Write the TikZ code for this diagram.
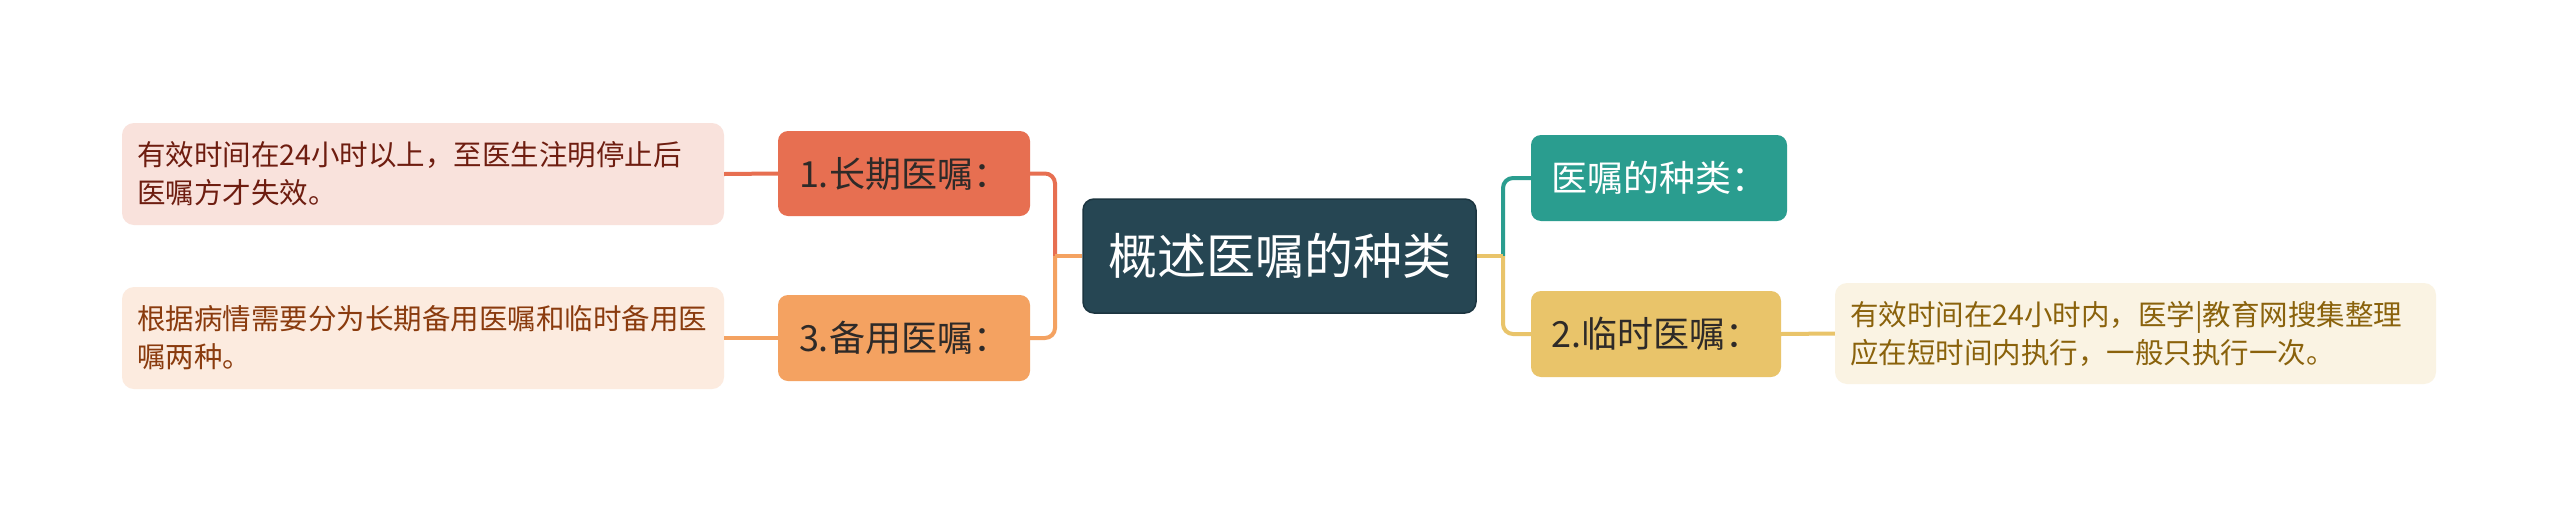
\documentclass[tikz,border=0pt]{standalone}
\usepackage{fontspec}
\newfontfamily\cjk{Noto Sans CJK SC}
\definecolor{cRed}{HTML}{E76F51}
\definecolor{cOrange}{HTML}{F4A261}
\definecolor{cTeal}{HTML}{2A9D8F}
\definecolor{cYellow}{HTML}{E9C46A}
\definecolor{cDark}{HTML}{264653}
\definecolor{cDarkLine}{HTML}{1C3540}
\definecolor{bgRed}{HTML}{F9E2DC}
\definecolor{bgOrange}{HTML}{FCEBDF}
\definecolor{bgYellow}{HTML}{FAF3E3}
\definecolor{txRed}{HTML}{6E1D10}
\definecolor{txOrange}{HTML}{8A3B0E}
\definecolor{txYellow}{HTML}{8A620C}
\definecolor{txDark}{HTML}{2E2A28}
\tikzset{
  conn/.style={line width=4pt},
  branchbox/.style={rounded corners=10pt, inner sep=0pt, font=\cjk\fontsize{36}{40}\selectfont},
  rootbox/.style={rounded corners=11pt, inner sep=0pt, fill=cDark, draw=cDarkLine, line width=1.5pt,
     text=white, minimum width=393pt, minimum height=114pt, font=\cjk\fontsize{49}{54}\selectfont},
  notebox/.style={rounded corners=12pt, inner xsep=15pt, inner ysep=0pt, text width=572pt, align=left,
     minimum height=102pt, font=\cjk\fontsize{28.5}{38}\selectfont},
}
\begin{document}
\begin{tikzpicture}[x=1pt,y=-1pt]
\useasboundingbox[fill=white] (0,0) rectangle (2560,512);

\node[rootbox] (root) at (1279.5,256) {概述医嘱的种类};

\node[branchbox, fill=cRed, text=txDark, minimum width=252pt, minimum height=85pt] (b1) at (904,173.5) {1.长期医嘱：};
\node[branchbox, fill=cOrange, text=txDark, minimum width=252pt, minimum height=86pt] (b3) at (904,338) {3.备用医嘱：};
\node[branchbox, fill=cTeal, text=white, minimum width=256pt, minimum height=86pt] (r1) at (1659,178) {医嘱的种类：};
\node[branchbox, fill=cYellow, text=txDark, minimum width=250pt, minimum height=86pt] (r2) at (1656,334) {2.临时医嘱：};

\node[notebox, fill=bgRed, text=txRed] (t1) at (423,174) {有效时间在24小时以上，至医生注明停止后\\医嘱方才失效。};
\node[notebox, fill=bgOrange, text=txOrange] (t2) at (423,338) {根据病情需要分为长期备用医嘱和临时备用医\\嘱两种。};
\node[notebox, fill=bgYellow, text=txYellow, text width=571pt, inner xsep=15pt, minimum height=101pt] (t3) at (2135.5,333.5) {有效时间在24小时内，医学|教育网搜集整理\\应在短时间内执行，一般只执行一次。};

\coordinate (jl) at (1055,256);
\coordinate (jr) at (1503,256);

\draw[conn, cRed, rounded corners=10pt] (jl) |- (b1.east);
\draw[conn, cOrange, rounded corners=10pt] (jl) |- (b3.east);
\draw[conn, cOrange] (root.west) -- (jl);
\draw[conn, cRed] (t1.east) -- (b1.west);
\draw[conn, cOrange] (t2.east) -- (b3.west);

\draw[conn, cTeal, rounded corners=10pt] (jr) |- (r1.west);
\draw[conn, cYellow, rounded corners=10pt] (jr) |- (r2.west);
\draw[conn, cYellow] (root.east) -- (jr);
\draw[conn, cYellow] (r2.east) -- (t3.west);
\end{tikzpicture}
\end{document}
